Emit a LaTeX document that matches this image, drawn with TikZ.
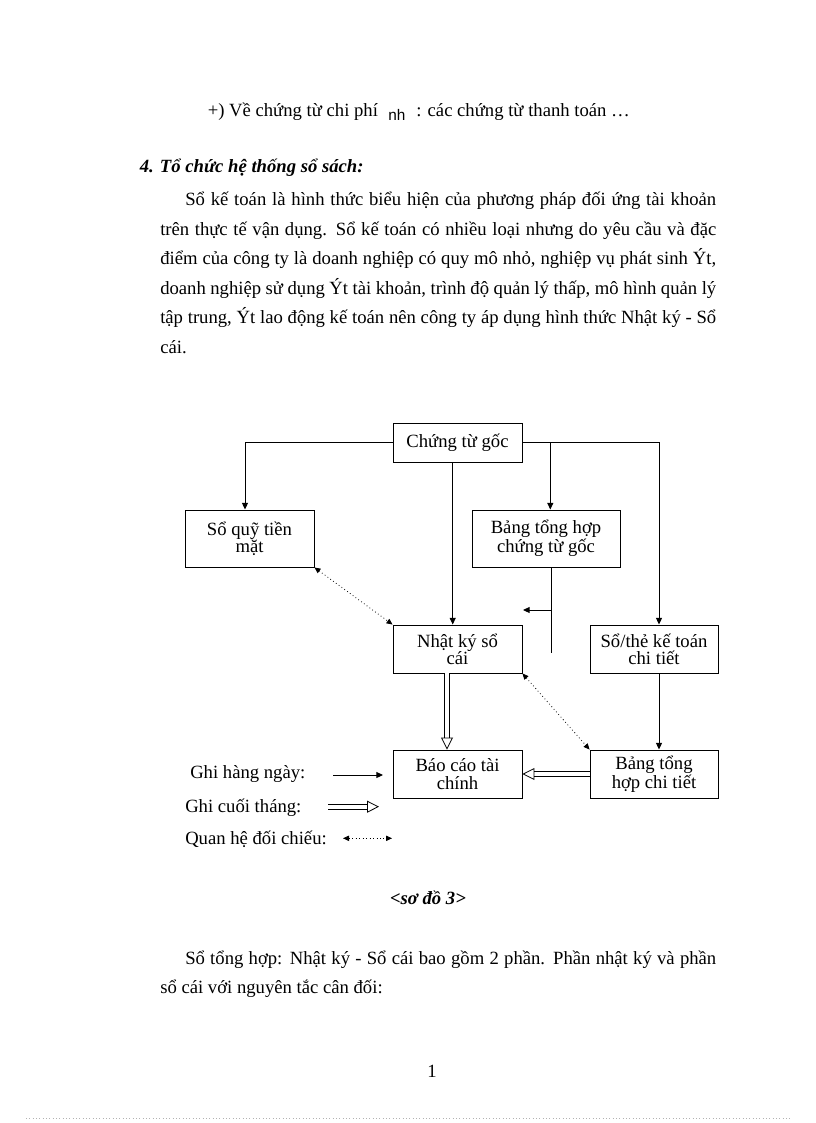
\documentclass[tikz,border=0pt]{standalone}
\usepackage{fontspec}
\setmainfont{Liberation Serif}
\newfontfamily\nhfont{Liberation Sans}
\usetikzlibrary{arrows.meta,calc}

% justified lines of the page text
\newcommand{\fullline}[1]{\makebox[417pt][s]{#1}}
\newcommand{\indline}[1]{\makebox[398.25pt][s]{#1}}

\begin{document}
\begin{tikzpicture}[x=0.75pt,y=-0.75pt,
  txt/.style={anchor=base west,inner sep=0pt,font=\fontsize{14}{16}\selectfont},
  hd/.style={txt,font=\fontsize{14}{16}\selectfont\bfseries\itshape},
  box/.style={draw,line width=0.7pt,align=center,inner sep=0pt,font=\fontsize{14}{13}\selectfont},
  daily/.style={line width=0.7pt,-{Triangle[length=5pt,width=4.5pt]}},
  monthly/.style={double,double distance=3pt,line width=0.6pt,-{Triangle[open,length=9pt,width=9pt,line width=0.6pt]}},
  check/.style={dotted,line width=0.6pt,{Triangle[length=4.5pt,width=4pt]}-{Triangle[length=4.5pt,width=4pt]}}]
\useasboundingbox (0,0) rectangle (816,1123);

% text above the diagram
\node[txt] (l1) at (207.5,117) {+) Về chứng từ chi phí};
\node[txt,font=\nhfont\fontsize{11.5}{13}\selectfont] (nh) at (388,121) {nh};
\node[txt] (l1b) at (416,117) {: các chứng từ thanh toán …};
\node[hd] (head) at (139.5,173) {4. Tổ chức hệ thống sổ sách:};
\node[txt] (p1) at (185,205.5) {\indline{Sổ kế toán là hình thức biểu hiện của phương pháp đối ứng tài khoản}};
\node[txt] (p2) at (160,235) {\fullline{trên thực tế vận dụng. Sổ kế toán có nhiều loại nhưng do yêu cầu và đặc}};
\node[txt] (p3) at (160,264.6) {\fullline{điểm của công ty là doanh nghiệp có quy mô nhỏ, nghiệp vụ phát sinh Ýt,}};
\node[txt] (p4) at (160,294.2) {\fullline{doanh nghiệp sử dụng Ýt tài khoản, trình độ quản lý thấp, mô hình quản lý}};
\node[txt] (p5) at (160,323.8) {\fullline{tập trung, Ýt lao động kế toán nên công ty áp dụng hình thức Nhật ký - Sổ}};
\node[txt] (p6) at (160,353.4) {cái.};

% boxes
\node[box,minimum width=96.75pt,minimum height=29.25pt] (goc) at (457.5,442.5) {Chứng từ gốc};
\node[box,minimum width=96.75pt,minimum height=42.75pt] (quy) at (249.5,538.5) {Sổ quỹ tiền\\mặt};
\node[box,minimum width=111pt,minimum height=42.75pt] (bthcg) at (546,538.5) {Bảng tổng hợp\\chứng từ gốc};
\node[box,minimum width=96.75pt,minimum height=36pt] (nkysc) at (457.5,649) {Nhật ký sổ\\cái};
\node[box,minimum width=96pt,minimum height=36pt] (sothe) at (654,649) {Sổ/thẻ kế toán\\chi tiết};
\node[box,minimum width=96.75pt,minimum height=36pt] (bctc) at (457.5,774) {Báo cáo tài\\chính};
\node[box,minimum width=96pt,minimum height=36pt] (bthct) at (654,774) {Bảng tổng\\hợp chi tiết};

% connectors
\draw[daily] (goc.west) -| ($(quy.north)+(-4.5,0)$);
\draw[daily] (goc.east) -| ($(sothe.north)+(5,0)$);
\draw[daily] ($(goc.east -| bthcg.north)+(4.3,0)$) -- ($(bthcg.north)+(4.3,0)$);
\draw[daily] ($(goc.south)+(-4.8,0)$) -- ($(nkysc.north)+(-4.8,0)$);
\coordinate (bend) at (551,610);
\coordinate (bend2) at (551,653);
\coordinate (tip) at (523,610);
\draw[line width=0.7pt] ($(bthcg.south)+(5,0)$) -- (bend2);
\draw[daily] (bend) -- (tip);
\draw[daily] ($(sothe.south)+(5,0)$) -- ($(bthct.north)+(5,0)$);
\draw[check] (quy.south east) -- (nkysc.north west);
\draw[check] (nkysc.south east) -- (bthct.north west);
\draw[monthly] ($(nkysc.south)+(-10.5,0)$) -- ($(bctc.north)+(-10.5,0)$);
\draw[monthly] (bthct.west) -- (bctc.east);

% legend
\node[txt,anchor=west] (lg1) at (190,774) {Ghi hàng ngày:};
\node[txt,anchor=west] (lg2) at (185,807.5) {Ghi cuối tháng:};
\node[txt,anchor=west] (lg3) at (185,839) {Quan hệ đối chiếu:};
\coordinate (a1) at (333,775);
\coordinate (b1) at (383,775);
\coordinate (a2) at (328,806.7);
\coordinate (b2) at (379,806.7);
\coordinate (a3) at (343,838.3);
\coordinate (b3) at (392,838.3);
\draw[daily] (a1) -- (b1);
\draw[monthly] (a2) -- (b2);
\draw[check] (a3) -- (b3);

% text below
\node[hd,anchor=base] (cap) at (428,904) {<sơ đồ 3>};
\node[txt] (q1) at (185,964) {\indline{Sổ tổng hợp: Nhật ký - Sổ cái bao gồm 2 phần. Phần nhật ký và phần}};
\node[txt] (q2) at (160,993) {sổ cái với nguyên tắc cân đối:};
\node[txt,anchor=base] (pg) at (432,1077) {1};
\draw[gray!60,dotted,line width=0.5pt] (26,1118) -- (792,1118);
\end{tikzpicture}
\end{document}
